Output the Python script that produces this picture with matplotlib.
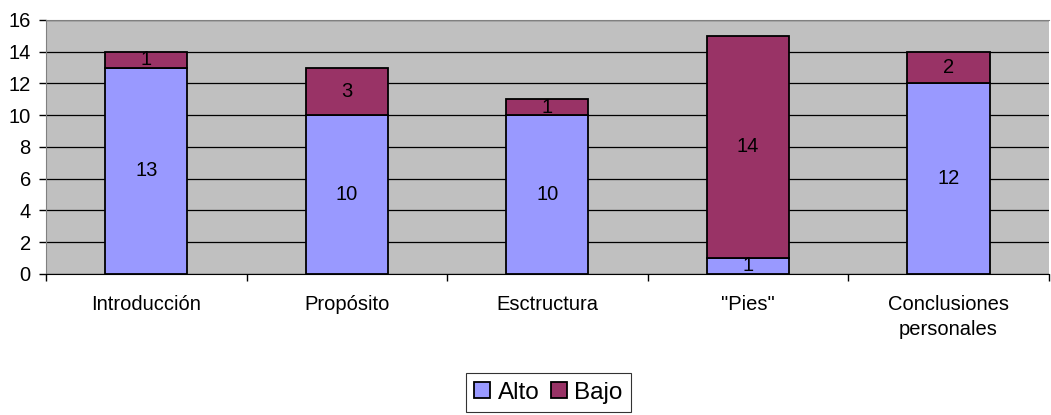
import numpy as np
import matplotlib.pyplot as plt

plt.rcParams['font.family'] = ['Liberation Sans', 'DejaVu Sans']

categorias = ['Introducción', 'Propósito', 'Esctructura', '"Pies"', 'Conclusiones\npersonales']
alto = [13, 10, 10, 1, 12]
bajo = [1, 3, 1, 14, 2]

fig = plt.figure(figsize=(10.51, 4.15), dpi=100)
ax = fig.add_axes([0.0438, 0.34, 0.954, 0.612])
ax.set_facecolor('#C0C0C0')

ind = np.arange(len(categorias))
w = 0.41
b1 = ax.bar(ind, alto, w, color='#9999FF', edgecolor='black', linewidth=1.3, label='Alto', zorder=3)
b2 = ax.bar(ind, bajo, w, bottom=alto, color='#993366', edgecolor='black', linewidth=1.3, label='Bajo', zorder=3)
ax.bar_label(b1, label_type='center', fontsize=14.5, zorder=4)
ax.bar_label(b2, label_type='center', fontsize=14.5, zorder=4)

ax.set_xlim(-0.5, len(categorias) - 0.5)
ax.set_ylim(0, 16)
ax.set_yticks(np.arange(0, 17, 2))
ax.yaxis.grid(True, color='black', linewidth=0.9, zorder=1)
ax.set_axisbelow(True)

ax.set_xticks(ind)
ax.set_xticklabels(categorias, fontsize=14.5, linespacing=1.45)
ax.set_xticks(np.arange(-0.5, len(categorias)), minor=True)
ax.tick_params(axis='x', which='major', length=0, pad=15)
ax.tick_params(axis='x', which='minor', length=5, width=1, direction='out')
ax.tick_params(axis='y', length=5, width=1, labelsize=14.5, pad=6)

ax.spines['top'].set_color('#808080')
ax.spines['right'].set_visible(False)
ax.spines['left'].set_color('#808080')
ax.spines['bottom'].set_color('black')

leg = fig.legend(loc='center', bbox_to_anchor=(0.522, 0.054), ncol=2, fontsize=17.5,
                 frameon=True, fancybox=False, edgecolor='black', handlelength=0.65,
                 handleheight=0.65, handletextpad=0.3, columnspacing=0.5, borderpad=0.35)
leg.get_frame().set_linewidth(0.8)

fig.savefig('out.png', dpi=100)
